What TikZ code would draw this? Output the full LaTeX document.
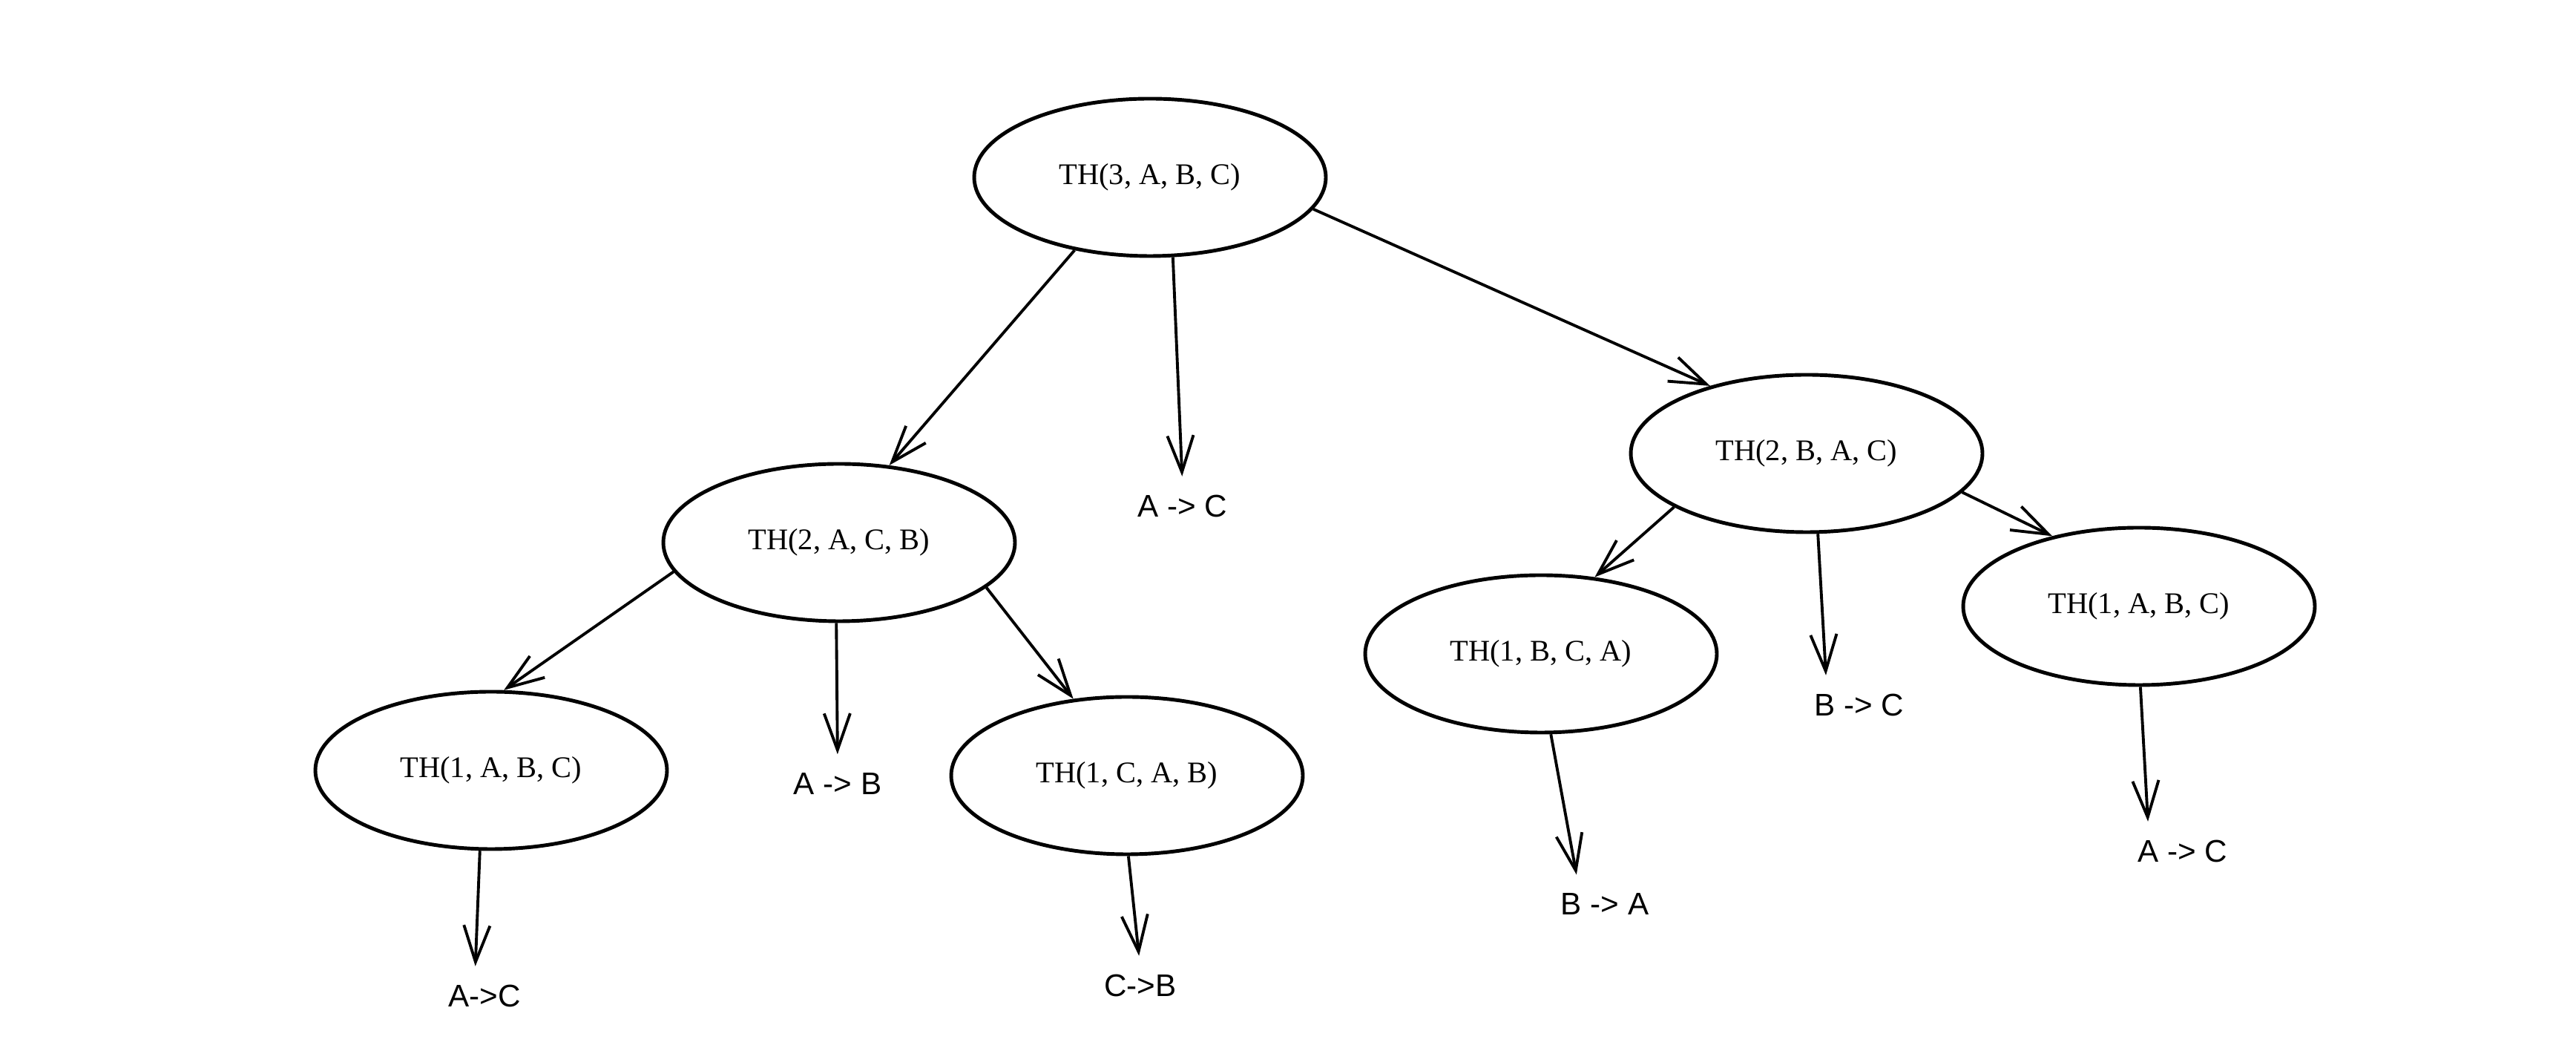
\documentclass[tikz,border=0pt]{standalone}
\usepackage{fontspec}
\setmainfont{Liberation Serif}
\newfontfamily\handfont{Liberation Sans}
\usepackage{tikz}
\usetikzlibrary{arrows.meta}
\usetikzlibrary{shapes.geometric}
\tikzset{>={Straight Barb[length=14pt,width=10pt]}}

\begin{document}
\begin{tikzpicture}[
		call/.style={ellipse,draw,line width=1.4pt,minimum width=4.74cm,minimum height=2.12cm,font=\fontsize{11.5}{14}\selectfont},
		move/.style={inner sep=2pt,font=\handfont\fontsize{12}{14}\selectfont},
		link/.style={->,line width=1.1pt},
		tolabel/.style={link,shorten >=5pt}]
		\useasboundingbox (0,0) rectangle (34.72,14.12);

		\node[call] (root) at (15.50,11.73) {TH(3, A, B, C)};
		\node[call] (acb) at (11.31,6.81) {TH(2, A, C, B)};
		\node[call] (bac) at (24.35,8.01) {TH(2, B, A, C)};
		\node[call] (abcl) at (6.62,3.74) {TH(1, A, B, C)};
		\node[call] (cab) at (15.19,3.67) {TH(1, C, A, B)};
		\node[call] (bca) at (20.77,5.31) {TH(1, B, C, A)};
		\node[call] (abcr) at (28.83,5.95) {TH(1, A, B, C)};

		\node[move] (mAC) at (15.94,7.30) {A -> C};
		\node[move] (mAB) at (11.29,3.56) {A -> B};
		\node[move] (mACl) at (6.53,0.70) {A->C};
		\node[move] (mCB) at (15.37,0.84) {C->B};
		\node[move] (mBC) at (25.06,4.62) {B -> C};
		\node[move] (mBA) at (21.63,1.94) {B -> A};
		\node[move] (mACr) at (29.42,2.65) {A -> C};

		%\draw[link] (root) -- (acb);
		\draw[link] (root.224) -- (acb.57);
		\draw[tolabel] (root.286) -- (mAC.north);
		\draw[link] (root.349) -- (bac.145);
		\draw[link] (acb.190) -- (abcl.81);
		\draw[tolabel] (acb.268) -- (mAB.north);
		\draw[link] (acb.343) -- (cab.125);
		\draw[tolabel] (abcl.262) -- ([xshift=-0.13cm]mACl.north);
		\draw[tolabel] (cab.271) -- (mCB.north);
		\draw[link] (bac.202) -- (bca.55);
		\draw[tolabel] (bac.278) -- ([xshift=-0.44cm]mBC.north);
		\draw[link] (bac.346) -- (abcr.141);
		\draw[tolabel] (bca.277) -- ([xshift=-0.35cm]mBA.north);
		\draw[tolabel] (abcr.271) -- ([xshift=-0.46cm]mACr.north);
	\end{tikzpicture}
\end{document}
